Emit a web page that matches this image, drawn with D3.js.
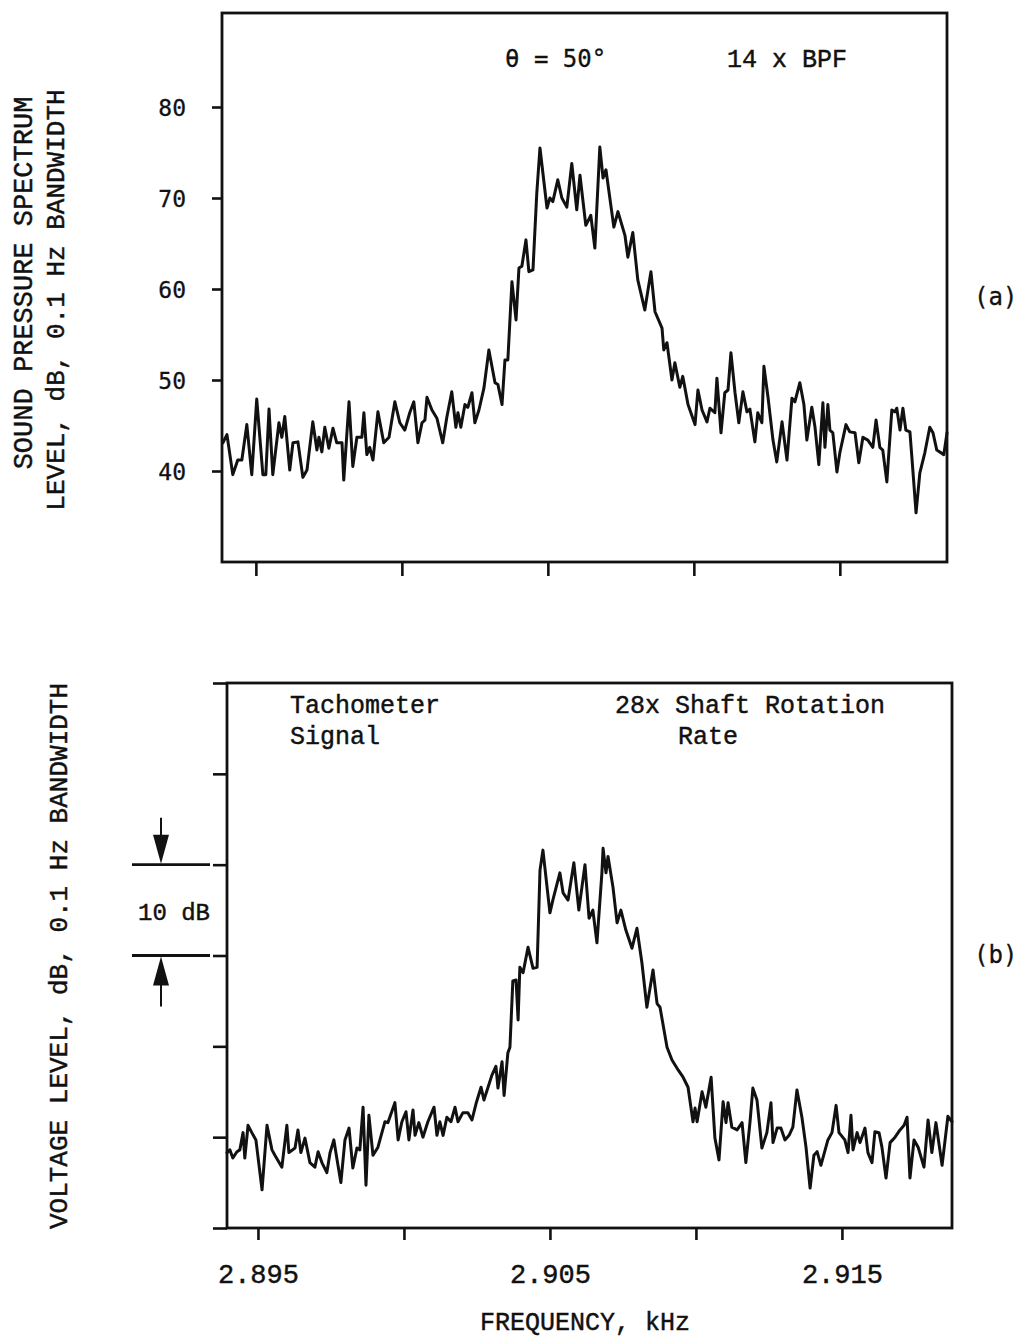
<!DOCTYPE html>
<html>
<head>
<meta charset="utf-8">
<script src="https://cdn.jsdelivr.net/npm/d3@7"></script>
<style>
  html, body { margin: 0; padding: 0; background: #fff; }
  svg { display: block; }
  .mono { font-family: "Liberation Mono", "DejaVu Sans Mono", monospace; fill: #111; stroke: #111; stroke-width: 0.45px; }
  .gothic { font-family: "DejaVu Sans Mono", "Liberation Mono", monospace; fill: #111; stroke: #111; stroke-width: 0.3px; }
</style>
</head>
<body>
<svg id="chart" width="1020" height="1337"></svg>
<script>
// (a) Sound pressure spectrum level, dB, 0.1 Hz bandwidth, at theta = 50 deg, 14 x BPF
const spectrumFreqHz = [
  2893.87, 2894.01, 2894.21, 2894.38, 2894.52, 2894.69, 2894.86, 2895.03, 2895.24, 2895.34,
  2895.45, 2895.58, 2895.79, 2895.89, 2895.99, 2896.16, 2896.27, 2896.44, 2896.61, 2896.75,
  2896.95, 2897.09, 2897.16, 2897.26, 2897.36, 2897.50, 2897.64, 2897.77, 2897.95, 2898.01,
  2898.19, 2898.32, 2898.46, 2898.63, 2898.70, 2898.80, 2898.90, 2899.01, 2899.18, 2899.38,
  2899.56, 2899.76, 2899.93, 2900.10, 2900.27, 2900.41, 2900.55, 2900.69, 2900.79, 2900.86,
  2901.03, 2901.20, 2901.40, 2901.54, 2901.71, 2901.85, 2901.92, 2902.02, 2902.16, 2902.26,
  2902.40, 2902.50, 2902.64, 2902.81, 2902.98, 2903.19, 2903.29, 2903.43, 2903.53, 2903.63,
  2903.77, 2903.91, 2904.01, 2904.11, 2904.25, 2904.35, 2904.49, 2904.62, 2904.73, 2904.97,
  2905.07, 2905.17, 2905.34, 2905.48, 2905.65, 2905.82, 2905.99, 2906.10, 2906.30, 2906.47,
  2906.61, 2906.78, 2906.89, 2906.99, 2907.26, 2907.40, 2907.64, 2907.74, 2907.91, 2908.08,
  2908.32, 2908.53, 2908.67, 2908.91, 2908.97, 2909.08, 2909.25, 2909.35, 2909.52, 2909.62,
  2909.80, 2910.04, 2910.14, 2910.28, 2910.45, 2910.55, 2910.72, 2910.79, 2910.93, 2911.06,
  2911.17, 2911.27, 2911.41, 2911.54, 2911.68, 2911.82, 2911.92, 2912.09, 2912.19, 2912.33,
  2912.40, 2912.54, 2912.71, 2912.84, 2913.02, 2913.19, 2913.36, 2913.46, 2913.63, 2913.77,
  2913.87, 2914.04, 2914.15, 2914.28, 2914.42, 2914.49, 2914.59, 2914.66, 2914.76, 2914.90,
  2915.00, 2915.21, 2915.34, 2915.52, 2915.65, 2915.79, 2915.96, 2916.13, 2916.24, 2916.37,
  2916.47, 2916.61, 2916.78, 2916.89, 2916.95, 2917.06, 2917.16, 2917.26, 2917.40, 2917.47,
  2917.61, 2917.74, 2917.91, 2918.08, 2918.19, 2918.32, 2918.56, 2918.67
];
const spectrumLevelDb = [
  43.1, 44.0, 39.6, 41.2, 41.2, 45.1, 39.6, 47.9, 39.6, 39.6,
  46.8, 39.6, 45.3, 43.7, 46.0, 40.1, 43.1, 43.2, 39.3, 40.1,
  45.4, 42.3, 43.7, 42.1, 44.8, 42.5, 44.7, 43.1, 43.1, 39.0,
  47.6, 40.5, 43.7, 43.7, 46.4, 41.8, 42.6, 41.2, 46.5, 43.1,
  43.7, 47.6, 45.3, 44.5, 46.4, 47.6, 43.1, 45.3, 45.6, 48.1,
  46.7, 45.8, 43.1, 45.9, 48.7, 44.8, 46.4, 44.8, 47.3, 47.0,
  48.6, 45.3, 46.7, 49.1, 53.3, 49.7, 49.5, 47.3, 52.2, 52.2,
  60.8, 56.6, 62.3, 62.5, 65.4, 61.9, 62.1, 70.5, 75.5, 68.9,
  70.0, 69.6, 72.0, 70.0, 69.0, 73.8, 68.7, 72.5, 67.0, 68.1,
  64.5, 75.6, 72.2, 73.1, 66.8, 68.5, 65.9, 63.5, 66.2, 61.0,
  57.7, 61.9, 57.5, 55.7, 53.3, 54.1, 50.0, 51.9, 49.2, 50.4,
  47.3, 45.1, 48.9, 46.7, 45.4, 46.9, 46.4, 50.2, 44.2, 48.6,
  48.9, 53.0, 48.6, 45.3, 48.7, 46.5, 46.8, 43.2, 46.4, 45.3,
  51.5, 48.1, 43.4, 41.0, 45.4, 41.2, 48.0, 47.6, 49.7, 47.3,
  43.4, 47.0, 44.8, 40.7, 47.5, 42.6, 47.3, 44.5, 44.2, 39.9,
  42.0, 45.1, 44.3, 44.2, 40.9, 43.7, 43.4, 42.6, 45.6, 42.6,
  42.3, 38.8, 46.7, 46.5, 46.9, 44.5, 46.9, 44.5, 44.3, 41.4,
  35.4, 39.8, 42.0, 44.8, 44.2, 42.3, 41.8, 44.2
];

// (b) Tachometer signal voltage level, dB (relative), 0.1 Hz bandwidth, 28 x shaft rotation rate
const tachFreqHz = [
  2893.94, 2894.04, 2894.14, 2894.28, 2894.38, 2894.49, 2894.55, 2894.66, 2894.79, 2894.93,
  2895.14, 2895.31, 2895.48, 2895.58, 2895.82, 2895.99, 2896.06, 2896.27, 2896.37, 2896.47,
  2896.61, 2896.78, 2896.95, 2897.06, 2897.19, 2897.36, 2897.47, 2897.60, 2897.71, 2897.84,
  2897.98, 2898.12, 2898.25, 2898.39, 2898.49, 2898.60, 2898.70, 2898.80, 2898.94, 2899.11,
  2899.35, 2899.45, 2899.69, 2899.80, 2899.93, 2900.07, 2900.17, 2900.31, 2900.38, 2900.51,
  2900.65, 2900.82, 2901.03, 2901.13, 2901.23, 2901.34, 2901.47, 2901.61, 2901.75, 2901.85,
  2902.02, 2902.19, 2902.33, 2902.47, 2902.64, 2902.74, 2902.88, 2903.01, 2903.15, 2903.22,
  2903.36, 2903.43, 2903.56, 2903.63, 2903.73, 2903.84, 2903.91, 2903.97, 2904.08, 2904.25,
  2904.42, 2904.56, 2904.66, 2904.76, 2905.00, 2905.10, 2905.34, 2905.45, 2905.62, 2905.82,
  2905.99, 2906.20, 2906.34, 2906.47, 2906.61, 2906.78, 2906.82, 2906.92, 2906.99, 2907.16,
  2907.30, 2907.43, 2907.60, 2907.81, 2907.98, 2908.15, 2908.32, 2908.53, 2908.67, 2908.77,
  2909.01, 2909.18, 2909.39, 2909.56, 2909.73, 2909.90, 2909.97, 2910.04, 2910.21, 2910.34,
  2910.52, 2910.65, 2910.79, 2910.93, 2911.03, 2911.10, 2911.23, 2911.41, 2911.58, 2911.71,
  2911.85, 2911.95, 2912.09, 2912.26, 2912.43, 2912.57, 2912.64, 2912.78, 2912.91, 2913.05,
  2913.19, 2913.32, 2913.46, 2913.63, 2913.77, 2913.91, 2914.04, 2914.15, 2914.28, 2914.52,
  2914.66, 2914.80, 2914.90, 2915.10, 2915.21, 2915.31, 2915.38, 2915.52, 2915.62, 2915.79,
  2915.89, 2916.03, 2916.13, 2916.27, 2916.37, 2916.51, 2916.65, 2916.82, 2916.99, 2917.13,
  2917.23, 2917.33, 2917.47, 2917.61, 2917.81, 2917.95, 2918.08, 2918.22, 2918.43, 2918.63,
  2918.77
];
const tachLevelDb = [
  8.3, 8.6, 7.7, 8.4, 8.6, 10.5, 7.7, 11.3, 10.5, 9.7,
  4.2, 11.3, 8.6, 8.0, 6.7, 11.3, 8.3, 8.8, 10.8, 8.3,
  9.9, 7.2, 6.7, 8.4, 7.2, 6.1, 8.3, 9.7, 7.5, 5.0,
  9.7, 11.0, 6.6, 8.8, 8.6, 13.3, 4.7, 12.4, 8.0, 8.9,
  11.7, 11.6, 13.8, 9.7, 11.7, 12.8, 9.7, 13.0, 10.2, 11.6,
  10.0, 11.7, 13.3, 10.2, 11.7, 10.2, 12.2, 11.7, 13.3, 11.7,
  12.7, 12.7, 11.9, 13.7, 15.5, 14.1, 15.5, 16.8, 17.8, 15.4,
  18.3, 14.6, 19.3, 19.9, 27.2, 27.3, 22.9, 28.7, 28.1, 30.9,
  28.6, 28.7, 39.4, 41.6, 34.7, 36.1, 39.1, 36.9, 36.1, 40.2,
  35.0, 40.0, 34.1, 35.0, 31.4, 39.1, 41.8, 39.1, 40.9, 37.5,
  33.6, 35.0, 32.8, 30.8, 33.0, 29.2, 24.3, 28.4, 24.7, 24.3,
  19.9, 18.5, 17.4, 16.6, 15.5, 11.7, 13.2, 11.7, 15.0, 13.3,
  16.6, 9.9, 7.5, 13.9, 11.6, 13.8, 11.1, 10.8, 11.6, 7.2,
  11.6, 15.4, 14.1, 8.8, 10.5, 13.8, 9.4, 11.0, 11.0, 9.7,
  10.2, 11.1, 15.2, 12.2, 8.9, 4.4, 8.0, 8.4, 6.9, 9.7,
  10.5, 13.5, 10.5, 9.7, 8.3, 12.4, 8.6, 10.5, 9.4, 11.0,
  8.3, 7.2, 10.6, 10.5, 8.9, 5.5, 9.4, 10.0, 10.8, 11.3,
  12.2, 5.5, 9.7, 8.9, 6.7, 11.9, 8.3, 11.6, 6.9, 12.3,
  11.7
];

// Axis ticks
const freqTicksHz = [2895, 2900, 2905, 2910, 2915];
const freqLabelledHz = [2895, 2905, 2915];
const splTicksDb = [40, 50, 60, 70, 80];
const voltTicksDb = [0, 10, 20, 30, 40, 50, 60];
const bracketDb = [30, 40];   // 10 dB reference bracket on panel (b)

const svg = d3.select("#chart");
const ink = "#111";

const spectrum = spectrumFreqHz.map((f, i) => ({ f, v: spectrumLevelDb[i] }));
const tach = tachFreqHz.map((f, i) => ({ f, v: tachLevelDb[i] }));

// ---------- panel (a) ----------
const A = { left: 222, right: 947, top: 13, bottom: 562 };
const xA = d3.scaleLinear().domain([2893.84, 2918.67]).range([A.left, A.right]);
const yA = d3.scaleLinear().domain([30, 90.33]).range([A.bottom, A.top]);

// ---------- panel (b) ----------
const B = { left: 227, right: 952, top: 683, bottom: 1228 };
const xB = d3.scaleLinear().domain([2893.94, 2918.77]).range([B.left, B.right]);
const yB = d3.scaleLinear().domain([0, 60]).range([B.bottom, B.top]);

function styleAxis(g) {
  g.select(".domain").remove();
  g.selectAll(".tick line").attr("stroke", ink).attr("stroke-width", 2.6);
}

// y axis (a), labelled
svg.append("g")
  .attr("transform", `translate(${A.left},0)`)
  .call(d3.axisLeft(yA).tickValues(splTicksDb).tickSize(10).tickPadding(26).tickFormat(d3.format("d")))
  .call(styleAxis)
  .call(g => g.selectAll(".tick text")
    .attr("class", "gothic").attr("font-size", 23).attr("fill", ink).attr("dy", "0.36em"));

// x axis (a), ticks only
svg.append("g")
  .attr("transform", `translate(0,${A.bottom})`)
  .call(d3.axisBottom(xA).tickValues(freqTicksHz).tickSize(14).tickFormat(""))
  .call(styleAxis);

// y axis (b), ticks only
svg.append("g")
  .attr("transform", `translate(${B.left},0)`)
  .call(d3.axisLeft(yB).tickValues(voltTicksDb).tickSize(14).tickFormat(""))
  .call(styleAxis);

// x axis (b), labelled in kHz
svg.append("g")
  .attr("transform", `translate(0,${B.bottom})`)
  .call(d3.axisBottom(xB).tickValues(freqTicksHz).tickSize(12).tickPadding(24)
    .tickFormat(d => freqLabelledHz.includes(d) ? (d / 1000).toFixed(3) : ""))
  .call(styleAxis)
  .call(g => g.selectAll(".tick text")
    .attr("class", "mono").attr("font-size", 27).attr("fill", ink));

// frames
[A, B].forEach(p => {
  svg.append("rect")
    .attr("x", p.left).attr("y", p.top)
    .attr("width", p.right - p.left).attr("height", p.bottom - p.top)
    .attr("fill", "none").attr("stroke", ink).attr("stroke-width", 2.8);
});

// traces
const lineA = d3.line().x(d => xA(d.f)).y(d => yA(d.v));
const lineB = d3.line().x(d => xB(d.f)).y(d => yB(d.v));

svg.append("path").datum(spectrum)
  .attr("d", lineA).attr("fill", "none").attr("stroke", ink)
  .attr("stroke-width", 3).attr("stroke-linejoin", "round").attr("stroke-linecap", "round");

svg.append("path").datum(tach)
  .attr("d", lineB).attr("fill", "none").attr("stroke", ink)
  .attr("stroke-width", 3).attr("stroke-linejoin", "round").attr("stroke-linecap", "round");

// in-plot annotations
function label(txt, x, y, size, cls, anchor) {
  return svg.append("text").attr("class", cls || "mono")
    .attr("x", x).attr("y", y).attr("font-size", size)
    .attr("text-anchor", anchor || "start").text(txt);
}
label("\u03B8 = 50\u00B0", 505, 67, 24, "gothic");
label("14 x BPF", 727, 67, 25);
label("Tachometer", 290, 713, 25);
label("Signal", 290, 744, 25);
label("28x Shaft Rotation", 615, 713, 25);
label("Rate", 678, 744, 25);

// panel tags
label("(a)", 974, 305, 24, "gothic");
label("(b)", 974, 963, 24, "gothic");

// axis titles
function vtitle(txt, x, y, size) {
  svg.append("text").attr("class", "mono")
    .attr("transform", `translate(${x},${y}) rotate(-90)`)
    .attr("text-anchor", "middle").attr("font-size", size).text(txt);
}
vtitle("SOUND PRESSURE SPECTRUM", 32, 283, 27);
vtitle("LEVEL, dB, 0.1 Hz BANDWIDTH", 64, 300, 26);
vtitle("VOLTAGE LEVEL, dB, 0.1 Hz BANDWIDTH", 67, 956, 26);

label("FREQUENCY, kHz", 585, 1330, 25, "mono", "middle");

// 10 dB reference bracket
const bx0 = 132, bx1 = 210, ax = 161;
bracketDb.forEach(v => {
  svg.append("line").attr("x1", bx0).attr("x2", bx1)
    .attr("y1", yB(v)).attr("y2", yB(v))
    .attr("stroke", ink).attr("stroke-width", 2.8);
});
const yHi = yB(bracketDb[1]), yLo = yB(bracketDb[0]);
// downward arrow onto the upper line
svg.append("line").attr("x1", ax).attr("x2", ax).attr("y1", yHi - 47).attr("y2", yHi - 28)
  .attr("stroke", ink).attr("stroke-width", 2);
svg.append("path").attr("fill", ink)
  .attr("d", `M${ax - 8},${yHi - 30} L${ax + 8},${yHi - 30} L${ax},${yHi - 1} Z`);
// upward arrow onto the lower line
svg.append("line").attr("x1", ax).attr("x2", ax).attr("y1", yLo + 28).attr("y2", yLo + 51)
  .attr("stroke", ink).attr("stroke-width", 2);
svg.append("path").attr("fill", ink)
  .attr("d", `M${ax - 8},${yLo + 30} L${ax + 8},${yLo + 30} L${ax},${yLo + 1} Z`);
label("10 dB", 174, 920, 24, "mono", "middle");
</script>
</body>
</html>
